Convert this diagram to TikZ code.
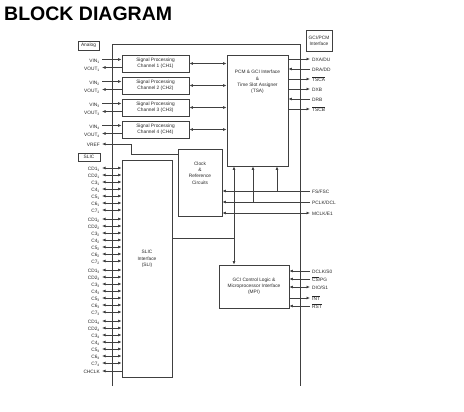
\documentclass[tikz,border=0pt]{standalone}
\usepackage{fontspec}
\setmainfont{Liberation Sans}
\usetikzlibrary{arrows.meta}
\begin{document}
\begin{tikzpicture}[x=1pt,y=-1pt,
  every node/.style={inner sep=0pt, font=\fontsize{4.8}{6.2}\selectfont, text=black!85},
  blk/.style={draw=black!75, line width=0.8pt, align=center},
  ln/.style={draw=black!75, line width=0.7pt},
  aR/.style={ln,-{Latex[length=3.5pt,width=3pt]}},
  aB/.style={ln,{Latex[length=3.5pt,width=3pt]}-{Latex[length=3.5pt,width=3pt]}},
  lblL/.style={anchor=mid east},
  lblR/.style={anchor=mid west},
]
\useasboundingbox (0,0) rectangle (464,412);

\node[anchor=base west, text=black, font=\fontsize{19.5}{20}\selectfont\bfseries] (title) at (4,21) {BLOCK DIAGRAM};

% outer frame
\coordinate (o1) at (112,386);
\coordinate (o2) at (300,386);
\draw[blk] (o1) |- (300,44) -- (o2);

% label boxes
\node[blk, minimum width=21pt, minimum height=9pt] (analog) at (88.5,45.5) {Analog};
\node[blk, minimum width=22pt, minimum height=8pt] (slic) at (89,157) {SLIC};
\node[blk, minimum width=26pt, minimum height=21pt] (gci) at (319,40.5) {GCI/PCM\\Interface};

% main blocks
\node[blk, minimum width=61pt, minimum height=111pt] (tsa) at (257.5,110.5) {};
\node[align=center] (tsat) at (257.5,82) {PCM \& GCI Interface\\\&\\Time Slot Assigner\\(TSA)};
\node[blk, minimum width=44pt, minimum height=67pt] (clk) at (200,182.5) {};
\node[align=center] (clkt) at (200,173) {Clock\\\&\\Reference\\Circuits};
\node[blk, minimum width=50pt, minimum height=217pt] (sli) at (147,268.5) {};
\node[align=center] (slit) at (147,259) {SLIC\\Interface\\(SLI)};
\node[blk, minimum width=70pt, minimum height=43pt] (mpi) at (254,286.5) {GCI Control Logic \&\\Microprocessor Interface\\(MPI)};

% channels
\foreach \i/\t in {1/55,2/77,3/99,4/121} {
  \node[blk, minimum width=67pt, minimum height=17pt] (ch\i) at (155.5,\t+8.5) {Signal Processing\\Channel \i\ (CH\i)};
  \coordinate (vin\i) at (102,\t+4.5);
  \coordinate (vout\i) at (102,\t+12.5);
  \node[lblL] (lvin\i) at ([xshift=-2pt]vin\i) {VIN\textsubscript{\i}};
  \node[lblL] (lvout\i) at ([xshift=-2pt]vout\i) {VOUT\textsubscript{\i}};
  \draw[aR] (vin\i) -- (vin\i -| ch\i.west);
  \draw[aR] (vout\i -| ch\i.west) -- (vout\i);
  \draw[aB] (ch\i.east) -- (ch\i.east -| tsa.west);
}

% VREF
\coordinate (vref) at (102,144);
\coordinate (vb) at (131,154);
\node[lblL] (lvref) at ([xshift=-2pt]vref) {VREF};
\draw[aR] (vb -| clk.west) -- (vb) |- (vref);

% SLIC pins
\foreach \g/\yy in {1/168,2/219,3/270,4/321} {
  \foreach \n/\k in {CD1/0,CD2/1,C3/2,C4/3,C5/4,C6/5,C7/6} {
    \coordinate (s\g\k) at (102,\yy+7*\k);
    \node[lblL] (ls\g\k) at ([xshift=-2pt]s\g\k) {\n\textsubscript{\g}};
    \draw[aB] (s\g\k) -- (s\g\k -| sli.west);
  }
}
\coordinate (chclk) at (102,371);
\node[lblL] (lchclk) at ([xshift=-2pt]chclk) {CHCLK};
\draw[aR] (chclk -| sli.west) -- (chclk);

% TSA right signals
\coordinate (t1) at (310,59);
\coordinate (t2) at (310,69);
\coordinate (t3) at (310,79);
\coordinate (t4) at (310,89);
\coordinate (t5) at (310,99);
\coordinate (t6) at (310,109);
\draw[aR] (t1 -| tsa.east) -- (t1);
\draw[aR] (t2) -- (t2 -| tsa.east);
\draw[aR] (t3 -| tsa.east) -- (t3);
\draw[aR] (t4 -| tsa.east) -- (t4);
\draw[aR] (t5) -- (t5 -| tsa.east);
\draw[aR] (t6 -| tsa.east) -- (t6);
\node[lblR] (lt1) at ([xshift=2pt]t1) {DXA/DU};
\node[lblR] (lt2) at ([xshift=2pt]t2) {DRA/DD};
\node[lblR] (lt3) at ([xshift=2pt]t3) {$\overline{\mbox{TSCA}}$};
\node[lblR] (lt4) at ([xshift=2pt]t4) {DXB};
\node[lblR] (lt5) at ([xshift=2pt]t5) {DRB};
\node[lblR] (lt6) at ([xshift=2pt]t6) {$\overline{\mbox{TSCB}}$};

% clock signals
\coordinate (fs) at (310,191);
\coordinate (pc) at (310,202);
\coordinate (mc) at (310,213);
\draw[aR] (fs) -- (fs -| clk.east);
\draw[aR] (pc) -- (pc -| clk.east);
\draw[aB] (mc) -- (mc -| clk.east);
\node[lblR] (lfs) at ([xshift=2pt]fs) {FS/FSC};
\node[lblR] (lpc) at ([xshift=2pt]pc) {PCLK/DCL};
\node[lblR] (lmc) at ([xshift=2pt]mc) {MCLK/E1};
\coordinate (v1) at (277,191);
\coordinate (v2) at (253,202);
\coordinate (v3) at (234,238);
\draw[aR] (v1) -- (v1 |- tsa.south);
\draw[aR] (v2) -- (v2 |- tsa.south);
\draw[aB] (v3 |- mpi.north) -- (v3 |- tsa.south);
\draw[ln] (v3 -| sli.east) -- (v3);

% MPI signals
\coordinate (m1) at (310,271);
\coordinate (m2) at (310,279);
\coordinate (m3) at (310,287);
\coordinate (m4) at (310,298);
\coordinate (m5) at (310,306);
\draw[aR] (m1) -- (m1 -| mpi.east);
\draw[aR] (m2) -- (m2 -| mpi.east);
\draw[aB] (m3) -- (m3 -| mpi.east);
\draw[aR] (m4 -| mpi.east) -- (m4);
\draw[aR] (m5) -- (m5 -| mpi.east);
\node[lblR] (lm1) at ([xshift=2pt]m1) {DCLK/S0};
\node[lblR] (lm2) at ([xshift=2pt]m2) {$\overline{\mbox{CS}}$/PG};
\node[lblR] (lm3) at ([xshift=2pt]m3) {DIO/S1};
\node[lblR] (lm4) at ([xshift=2pt]m4) {$\overline{\mbox{INT}}$};
\node[lblR] (lm5) at ([xshift=2pt]m5) {$\overline{\mbox{RST}}$};
\end{tikzpicture}
\end{document}
